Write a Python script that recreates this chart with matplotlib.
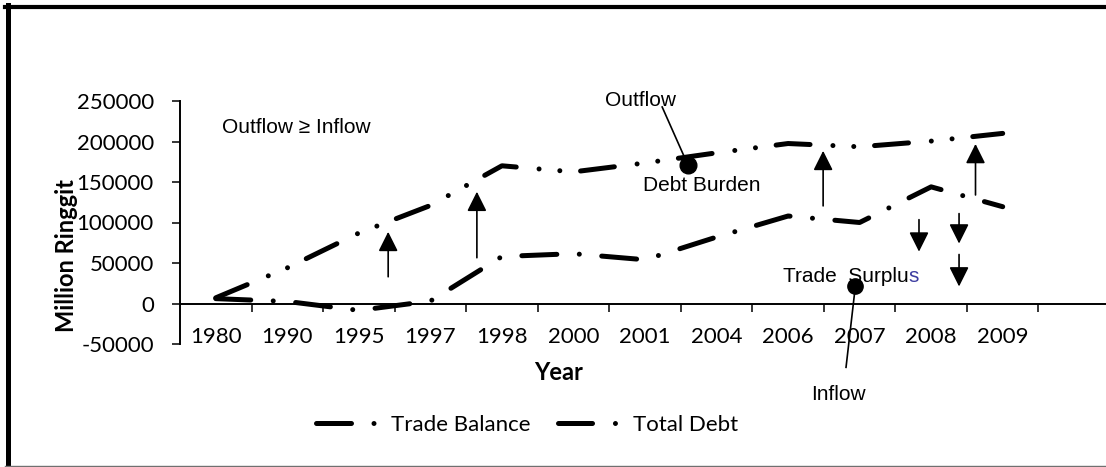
# Trade balance vs total debt (Million Ringgit), 1980-2009
import numpy as np
import matplotlib
matplotlib.use('Agg')
import matplotlib.pyplot as plt
from matplotlib.lines import Line2D
from matplotlib.patches import ArrowStyle

plt.rcParams['font.family'] = 'Lato'
plt.rcParams['lines.scale_dashes'] = False
plt.rcParams['axes.unicode_minus'] = False

years = ['1980', '1990', '1995', '1997', '1998', '2000', '2001', '2004', '2006', '2007', '2008', '2009']
trade_balance = [6000, 2500, -8500, 3000, 58000, 61500, 54000, 82000, 108000, 100000, 144000, 119500]
total_debt = [7000, 44000, 87000, 121000, 170000, 162500, 173500, 186000, 197500, 193500, 200500, 210000]
y_ticks = [-50000, 0, 50000, 100000, 150000, 200000, 250000]

# flow arrows: category position, tail value, head value
arrow_x = [2.41, 3.65, 8.49, 10.62, 9.83, 10.39, 10.39]
arrow_from = [33000, 56500, 120500, 134000, 103500, 111000, 60500]
arrow_to = [88500, 138000, 188500, 197000, 64000, 74000, 21000]

# callout points
debt_burden_pt = (6.60, 171000)
surplus_pt = (8.94, 21000)

W, H = 1106, 467
fig = plt.figure(figsize=(W / 100, H / 100), dpi=100)
fig.patch.set_facecolor('white')

ax = fig.add_axes([180 / W, (H - 344) / H, 930 / W, 243 / H])
x = np.arange(len(years))

tb_dash = (0, (25.2, 16.2, 0.01, 16.2))
td_dash = (0, (24.5, 16.5, 0.01, 15.0, 0.01, 15.0))
ax.plot(x, trade_balance, color='black', lw=3.6, linestyle=tb_dash,
        dash_capstyle='round', solid_capstyle='round', label='Trade Balance')
ax.plot(x, total_debt, color='black', lw=3.6, linestyle=td_dash,
        dash_capstyle='round', solid_capstyle='round', label='Total Debt')

ax.set_xlim(-0.5, 12.5)
ax.set_ylim(-50000, 250000)

for s in ['top', 'right']:
    ax.spines[s].set_visible(False)
ax.spines['bottom'].set_position(('data', 0))
ax.spines['bottom'].set_linewidth(1.4)
ax.spines['left'].set_linewidth(1.4)

ax.set_xticks(x, labels=years)
ax.set_xticks(np.arange(0.5, 12, 1), minor=True)
ax.tick_params(axis='x', which='major', length=0, pad=17, labelsize=16)
ax.tick_params(axis='x', which='minor', length=5.8, width=1.1, direction='out')
ax.set_yticks(y_ticks)
ax.tick_params(axis='y', length=5.8, width=1.1, direction='out', pad=13, labelsize=16)

fig.text(67 / W, 1 - 256 / H, 'Million Ringgit', rotation=90, fontsize=17,
         fontweight='bold', ha='center', va='center')
fig.text(559 / W, 1 - 372 / H, 'Year', fontsize=17, fontweight='bold',
         ha='center', va='center')

# arrows between the two series
for xa, y0, y1 in zip(arrow_x, arrow_from, arrow_to):
    ax.annotate('', xy=(xa, y1), xytext=(xa, y0),
                arrowprops=dict(arrowstyle=ArrowStyle('-|>', head_length=1.2, head_width=0.6),
                                mutation_scale=10, color='black', lw=1.2,
                                shrinkA=0, shrinkB=0))

af = 'Liberation Sans'
ax.text(1.13, 216700, 'Outflow \u2265 Inflow', family=af, fontsize=15, ha='center', va='center')
ax.text(5.94, 250000, 'Outflow', family=af, fontsize=15, ha='center', va='center', clip_on=False)
ax.plot([6.24, debt_burden_pt[0]], [242600, debt_burden_pt[1]], color='black', lw=1.2, clip_on=False)
ax.plot(*debt_burden_pt, 'o', color='black', ms=12)
ax.text(6.80, 145300, 'Debt Burden', family=af, fontsize=15, ha='center', va='center')

t = ax.text(7.93, 33250, 'Trade  Surplu', family=af, fontsize=15, ha='left', va='center')
ax.annotate('s', xy=(1, 0), xycoords=t, family=af, fontsize=15, ha='left',
            va='bottom', color='#3c3ca0')
ax.plot([surplus_pt[0], 8.81], [surplus_pt[1], -78800], color='black', lw=1.2, clip_on=False)
ax.plot(*surplus_pt, 'o', color='black', ms=11)
ax.text(8.71, -112100, 'Inflow', family=af, fontsize=15, ha='center', va='center', clip_on=False)

fig.legend(loc='center', bbox_to_anchor=(527 / W, 1 - 425 / H), ncol=2, frameon=False,
           fontsize=16, handlelength=2.7, handletextpad=0.7, columnspacing=1.2)

# outer frame
fig.add_artist(Line2D([5 / W, 1], [1 - 6.5 / H, 1 - 6.5 / H], color='black', lw=3,
                      transform=fig.transFigure))
fig.add_artist(Line2D([7.5 / W, 7.5 / W], [0, 1 - 5 / H], color='black', lw=3.6,
                      transform=fig.transFigure))
fig.add_artist(Line2D([5 / W, 1], [1 - 466 / H, 1 - 466 / H], color='#707070', lw=1,
                      transform=fig.transFigure))

fig.savefig('out.png', dpi=100)
